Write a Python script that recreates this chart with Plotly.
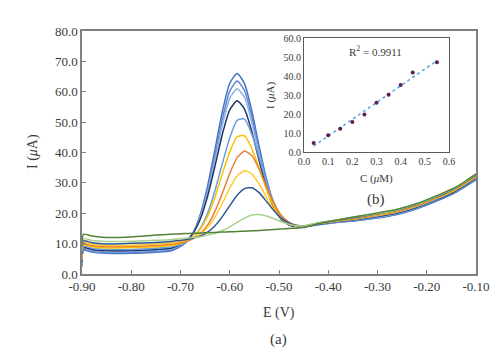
import numpy as np
import plotly.graph_objects as go

# ---- main voltammograms ----
E = [-0.900, -0.897, -0.88, -0.85, -0.80, -0.75, -0.72,
     -0.705, -0.69, -0.675, -0.66, -0.645, -0.63, -0.615, -0.60, -0.585, -0.57,
     -0.555, -0.54, -0.525, -0.51, -0.495, -0.48, -0.465, -0.45,
     -0.42, -0.38, -0.34, -0.30, -0.26, -0.22, -0.18, -0.14, -0.10]

c1 = [2.5, 7.8, 7.2, 6.8, 6.8, 7.2, 7.6,
      8.6, 10.2, 13.3, 19.5, 29.0, 41.0, 53.5, 62.8, 66.0, 62.7, 53.5, 41.8, 31.0, 23.2, 18.6, 16.4, 15.7, 15.5,
      16.2, 17.0, 17.6, 18.4, 19.6, 21.5, 24.0, 27.0, 31.0]
c2 = [3.0, 8.1, 7.5, 7.1, 7.1, 7.5, 7.9,
      8.9, 10.4, 13.3, 18.9, 27.8, 38.9, 51.0, 60.2, 63.5, 60.4, 51.6, 40.5, 30.2, 22.7, 18.4, 16.3, 15.7, 15.6,
      16.3, 17.1, 17.7, 18.6, 19.8, 21.7, 24.2, 27.2, 31.2]
c3 = [3.5, 8.4, 7.8, 7.4, 7.4, 7.8, 8.2,
      9.2, 10.6, 13.4, 18.6, 27.0, 37.6, 49.0, 57.8, 61.0, 58.1, 49.8, 39.2, 29.5, 22.3, 18.2, 16.3, 15.6, 15.7,
      16.4, 17.2, 17.9, 18.7, 19.9, 21.8, 24.4, 27.3, 31.4]
c4 = [4.0, 8.7, 8.1, 7.7, 7.7, 8.1, 8.5,
      9.4, 10.7, 13.3, 18.0, 25.6, 35.5, 46.0, 54.0, 57.0, 54.3, 46.8, 37.1, 28.2, 21.7, 17.9, 16.2, 15.6, 15.6,
      16.4, 17.3, 18.0, 18.9, 20.1, 22.0, 24.5, 27.5, 31.6]
c5 = [4.5, 9.1, 8.5, 8.1, 8.1, 8.5, 8.9,
      9.5, 10.4, 12.0, 15.0, 20.0, 27.4, 36.4, 44.8, 50.6, 51.0, 45.9, 38.2, 30.0, 23.3, 19.0, 16.8, 15.9, 15.7,
      16.5, 17.4, 18.2, 19.1, 20.3, 22.2, 24.7, 27.7, 31.8]
c6 = [5.0, 9.6, 9.0, 8.6, 8.7, 9.0, 9.4,
      9.9, 10.7, 12.1, 14.7, 19.0, 25.3, 33.0, 40.2, 45.2, 45.5, 41.2, 34.7, 27.7, 22.1, 18.4, 16.5, 15.8, 15.7,
      16.6, 17.5, 18.3, 19.3, 20.5, 22.4, 24.9, 27.9, 32.0]
c7 = [5.5, 9.9, 9.3, 9.0, 9.1, 9.4, 9.8,
      10.2, 10.7, 11.6, 13.3, 16.1, 20.6, 26.6, 33.1, 38.3, 40.5, 38.9, 34.4, 28.5, 23.2, 19.3, 17.1, 16.1, 15.8,
      16.7, 17.6, 18.4, 19.4, 20.6, 22.5, 25.1, 28.0, 32.2]
c8 = [6.0, 10.4, 9.8, 9.4, 9.5, 9.9, 10.2,
      10.6, 11.0, 11.8, 13.1, 15.3, 18.8, 23.3, 28.3, 32.3, 34.0, 32.9, 29.5, 25.1, 21.1, 18.2, 16.6, 15.9, 15.7,
      16.8, 17.7, 18.6, 19.6, 20.8, 22.7, 25.3, 28.2, 32.4]
c9 = [6.5, 10.9, 10.3, 9.9, 10.1, 10.4, 10.7,
      11.0, 11.3, 11.8, 12.5, 13.8, 15.9, 18.9, 22.5, 25.9, 28.1, 28.4, 26.7, 23.8, 20.8, 18.3, 16.8, 16.0, 15.8,
      16.8, 17.8, 18.7, 19.8, 21.0, 22.9, 25.4, 28.4, 32.6]
c10 = [7.5, 11.6, 11.0, 10.7, 10.8, 11.1, 11.3,
       11.5, 11.8, 12.0, 12.3, 12.8, 13.4, 14.3, 15.5, 17.0, 18.4, 19.4, 19.6, 19.1, 18.2, 17.2, 16.4, 15.9, 15.8,
       16.9, 17.9, 18.9, 19.9, 21.1, 23.0, 25.6, 28.5, 32.8]
c11 = [9.0, 13.1, 12.5, 12.0, 12.2, 12.8, 13.1,
       13.2, 13.3, 13.4, 13.5, 13.6, 13.7, 13.8, 13.9, 14.0, 14.1, 14.2, 14.35, 14.5, 14.65, 14.8, 14.95, 15.1, 15.3,
       16.6, 17.8, 19.0, 20.1, 21.3, 23.2, 25.8, 28.7, 33.0]

curves = [c1, c2, c3, c4, c5, c6, c7, c8, c9, c10, c11]
colors = ["#4472C4", "#5F86D2", "#8EB0E0", "#1F3864", "#6A9FDA",
          "#FFC000", "#ED7D31", "#FFCB2E", "#2F5597", "#A9D18E", "#548235"]

x_ticks = [-0.90, -0.80, -0.70, -0.60, -0.50, -0.40, -0.30, -0.20, -0.10]
x_tick_labels = ["-0.90", "-0.80", "-0.70", "-0.60", "-0.50", "-0.40", "-0.30", "-0.20", "-0.10"]
y_ticks = [0, 10, 20, 30, 40, 50, 60, 70, 80]
y_tick_labels = ["0.0", "10.0", "20.0", "30.0", "40.0", "50.0", "60.0", "70.0", "80.0"]

# ---- inset calibration ----
conc = [0.04, 0.10, 0.15, 0.20, 0.25, 0.30, 0.35, 0.40, 0.45, 0.55]
peak_I = [4.8, 8.8, 12.3, 15.8, 19.8, 25.9, 30.1, 35.2, 41.8, 47.3]
in_x_ticks = [0.0, 0.1, 0.2, 0.3, 0.4, 0.5, 0.6]
in_y_ticks = [0, 10, 20, 30, 40, 50, 60]

FONT = "Liberation Serif, Times New Roman, serif"
TXT = "#3a3a3a"
AX = "#7f7f7f"

fig = go.Figure()
for vals, col in zip(curves, colors):
    fig.add_trace(go.Scatter(x=E, y=vals, mode="lines", showlegend=False,
                             line=dict(color=col, width=1.5, shape="spline", smoothing=0.6),
                             hoverinfo="skip"))

slope, icpt = np.polyfit(conc, peak_I, 1)
fx = [conc[0], conc[-1]]
fig.add_trace(go.Scatter(x=fx, y=[slope * v + icpt for v in fx], mode="lines",
                         line=dict(color="#5DADE2", width=1.6, dash="dot"),
                         xaxis="x2", yaxis="y2", showlegend=False))
fig.add_trace(go.Scatter(x=conc, y=peak_I, mode="markers",
                         marker=dict(color="#5A1F4F", size=4),
                         xaxis="x2", yaxis="y2", showlegend=False))

L, R, T, B = 74, 468, 23, 266
W, H = R - L, B - T

def px(x):
    return (x - L) / W

def py(y):
    return (B - y) / H

fig.update_layout(
    width=500, height=356,
    margin=dict(l=L, r=500 - R, t=T, b=356 - B),
    paper_bgcolor="white", plot_bgcolor="white",
    font=dict(family=FONT, color=TXT, size=12),
    xaxis=dict(range=[-0.9, -0.1], tickvals=x_ticks, ticktext=x_tick_labels,
               ticks="inside", ticklen=4, tickcolor=AX, tickwidth=1,
               showline=True, linecolor=AX, linewidth=1.5, mirror=True,
               showgrid=False, zeroline=False, tickfont=dict(size=13, color=TXT, family=FONT)),
    yaxis=dict(range=[0, 80], tickvals=y_ticks, ticktext=y_tick_labels,
               ticks="inside", ticklen=4, tickcolor=AX, tickwidth=1,
               showline=True, linecolor=AX, linewidth=1.5, mirror=True,
               showgrid=False, zeroline=False, tickfont=dict(size=13, color=TXT, family=FONT)),
    xaxis2=dict(domain=[px(296), px(441)], anchor="y2", range=[0, 0.6],
                tickvals=in_x_ticks, tickformat=".1f", ticks="",
                showline=True, linecolor="#595959", linewidth=1, mirror=True,
                showgrid=False, zeroline=False, tickfont=dict(size=10, color=TXT, family=FONT)),
    yaxis2=dict(domain=[py(144), py(30)], anchor="x2", range=[0, 60],
                tickvals=in_y_ticks, tickformat=".1f", ticks="",
                showline=True, linecolor="#595959", linewidth=1, mirror=True,
                showgrid=False, zeroline=False, tickfont=dict(size=10, color=TXT, family=FONT)),
)

def ann(text, x, y, size, angle=0):
    fig.add_annotation(text=text, x=px(x), y=py(y), xref="paper", yref="paper",
                       showarrow=False, xanchor="center", yanchor="middle",
                       textangle=angle, font=dict(size=size, color=TXT, family=FONT))

ann("I (<i>μ</i>A)", 25, 144, 14, -90)
ann("E (V)", 271, 305, 14)
ann("(a)", 270, 331, 15)
ann("(b)", 368, 191, 15)
ann("C (<i>μ</i>M)", 368, 170, 11)
ann("I (<i>μ</i>A)", 262, 87, 11, -90)
ann("R<sup>2</sup> = 0.9911", 367, 43, 11)

fig.write_html("out.html")
